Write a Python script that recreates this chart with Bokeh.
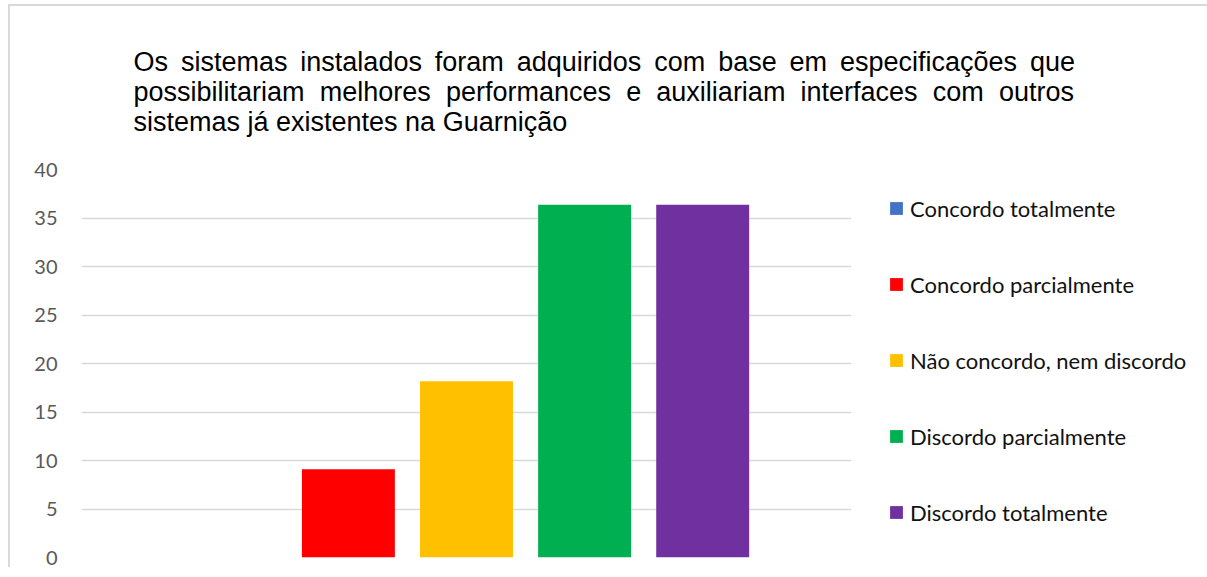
from bokeh.plotting import figure
from bokeh.models import FactorRange, Range1d, Legend, LegendItem, ColumnDataSource, FixedTicker, Title
from bokeh.embed import file_html
from bokeh.resources import INLINE

# ---------------- data ----------------
title_lines = [
    "Os sistemas instalados foram adquiridos com base em especificações que",
    "possibilitariam melhores performances e auxiliariam interfaces com outros",
    "sistemas já existentes na Guarnição",
]
series = [
    "Concordo totalmente",
    "Concordo parcialmente",
    "Não concordo, nem discordo",
    "Discordo parcialmente",
    "Discordo totalmente",
]
values = [0, 9.09, 18.18, 36.36, 36.36]
colors = ["#4472C4", "#FF0000", "#FFC000", "#00B050", "#7030A0"]
y_ticks = [0, 5, 10, 15, 20, 25, 30, 35, 40]

# ---------------- geometry (canvas pixels) ----------------
ML, MR, MT, MB = 71, 340, 163, 12
FW, FH = 770, 388
PAD = 0.76

# justified title lines: widen the word gaps with typographic spaces
gap_fill = ["\u2009", "\u2009\u200a", ""]
title_text = "\n".join(line.replace(" ", " " + g) for line, g in zip(title_lines, gap_fill))

# ---------------- main chart ----------------
src = ColumnDataSource(dict(series=series, values=values, colors=colors))
p = figure(x_range=FactorRange(factors=series, range_padding=PAD, range_padding_units="absolute"),
           y_range=Range1d(0, 40), frame_width=FW, frame_height=FH,
           min_border_left=ML, min_border_right=MR, min_border_top=MT, min_border_bottom=MB,
           toolbar_location=None, tools="", output_backend="svg", outline_line_color=None,
           title=None,
           styles={"margin-left": "10px", "margin-top": "6px",
                   "box-shadow": "-2px -2px 0 0 #d9d9d9"})
r = p.vbar(x="series", top="values", width=0.787, color="colors", line_color=None, source=src)

p.add_layout(Title(text=title_text, align="left", offset=52, standoff=65,
                   text_font="Liberation Sans", text_font_size="27px", text_font_style="normal",
                   text_color="#000000", text_line_height=1.0), "above")

p.xaxis.visible = False
p.xgrid.visible = False
p.yaxis.ticker = FixedTicker(ticks=y_ticks)
p.yaxis.axis_line_color = None
p.yaxis.major_tick_line_color = None
p.yaxis.minor_tick_line_color = None
p.yaxis.major_tick_out = 0
p.yaxis.major_tick_in = 0
p.yaxis.major_label_standoff = 24
p.yaxis.major_label_text_font = "Lato"
p.yaxis.major_label_text_font_size = "20px"
p.yaxis.major_label_text_color = "#595959"
p.ygrid.grid_line_color = "#d9d9d9"
p.ygrid.grid_line_width = 1.5

items = [LegendItem(label=s, renderers=[r], index=i) for i, s in enumerate(series)]
legend = Legend(items=items, location=(37, 31.5), orientation="vertical", spacing=49,
                padding=0, margin=0, glyph_width=16, glyph_height=16, label_height=25,
                label_standoff=6, label_text_font="Lato", label_text_font_size="22px",
                label_text_color="#111111", border_line_color=None, background_fill_alpha=0)
p.add_layout(legend, "right")

open("out.html", "w").write(file_html(p, INLINE))
